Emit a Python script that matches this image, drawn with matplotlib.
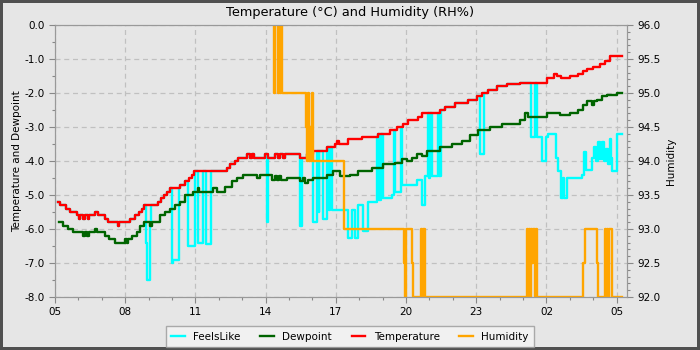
import numpy as np
import matplotlib
matplotlib.use("Agg")
import matplotlib.pyplot as plt
from matplotlib.ticker import MultipleLocator

# time in hours after 05:00 of the first day
temp_t = [0.13, 0.21, 0.47, 0.64, 0.94, 1.03, 1.07, 1.20, 1.26, 1.41, 1.45, 1.71, 1.84,
          2.14, 2.26, 2.69, 2.74, 3.21, 3.42, 3.59, 3.72, 3.80, 4.40, 4.53, 4.66, 4.79,
          4.91, 5.34, 5.56, 5.73, 5.85, 5.94, 7.35, 7.48, 7.69, 7.82, 8.21, 8.33, 8.42,
          8.50, 8.97, 9.10, 9.40, 9.53, 9.62, 9.74, 9.83, 10.47, 10.77, 11.03, 11.62,
          11.97, 12.05, 12.14, 12.52, 13.12, 13.80, 14.32, 14.62, 14.87, 15.09, 15.51,
          15.68, 16.45, 16.67, 17.09, 17.65, 18.03, 18.25, 18.50, 18.89, 19.32, 19.87,
          21.03, 21.32, 21.45, 21.62, 22.01, 22.35, 22.56, 22.74, 22.99, 23.29, 23.50,
          23.72, 24.23]
temp_v = [-5.2, -5.3, -5.4, -5.5, -5.6, -5.7, -5.6, -5.7, -5.6, -5.7, -5.6, -5.5, -5.6,
          -5.7, -5.8, -5.9, -5.8, -5.7, -5.6, -5.5, -5.4, -5.3, -5.2, -5.1, -5.0, -4.9,
          -4.8, -4.7, -4.6, -4.5, -4.4, -4.3, -4.2, -4.1, -4.0, -3.9, -3.8, -3.9, -3.8,
          -3.9, -3.8, -3.9, -3.8, -3.9, -3.8, -3.9, -3.8, -3.9, -3.8, -3.7, -3.6,
          -3.5, -3.4, -3.5, -3.35, -3.3, -3.2, -3.1, -3.0, -2.9, -2.8, -2.7,
          -2.6, -2.5, -2.4, -2.3, -2.2, -2.1, -2.0, -1.9, -1.8, -1.75, -1.7,
          -1.55, -1.45, -1.5, -1.55, -1.5, -1.45, -1.35, -1.3, -1.25, -1.15, -1.05,
          -0.9, -0.9]

dew_t = [0.17, 0.34, 0.56, 0.77, 1.20, 1.28, 1.37, 1.45, 1.71, 1.79, 2.14, 2.31, 2.56,
         2.99, 3.08, 3.12, 3.29, 3.50, 3.63, 3.80, 4.06, 4.15, 4.49, 4.70, 4.91, 5.13,
         5.34, 5.56, 5.90, 6.11, 6.15, 6.75, 6.92, 7.26, 7.56, 7.78, 8.03, 8.63, 8.76,
         9.27, 9.40, 9.49, 9.57, 9.66, 9.91, 10.47, 10.60, 10.68, 10.81, 11.03, 11.62,
         11.88, 12.18, 12.61, 12.95, 13.55, 14.02, 14.53, 14.83, 15.04, 15.26, 15.47,
         15.68, 15.90, 16.45, 16.97, 17.39, 17.74, 18.08, 18.59, 19.10, 19.87, 20.09,
         20.21, 21.03, 21.58, 22.01, 22.35, 22.56, 22.74, 22.95, 23.03, 23.16, 23.38,
         23.59, 24.02, 24.23]
dew_v = [-5.8, -5.9, -6.0, -6.1, -6.2, -6.1, -6.2, -6.1, -6.0, -6.1, -6.2, -6.3, -6.4,
         -6.3, -6.4, -6.3, -6.2, -6.1, -5.9, -5.8, -5.9, -5.8, -5.6, -5.5, -5.4, -5.3,
         -5.2, -5.0, -4.9, -4.8, -4.9, -4.8, -4.9, -4.75, -4.6, -4.5, -4.4, -4.5, -4.4,
         -4.55, -4.45, -4.55, -4.45, -4.55, -4.5, -4.6, -4.5, -4.65, -4.55, -4.5, -4.4,
         -4.3, -4.45, -4.4, -4.3, -4.2, -4.1, -4.05, -3.95, -4.0, -3.9, -3.8,
         -3.85, -3.7, -3.6, -3.5, -3.4, -3.25, -3.1, -3.0, -2.9, -2.8, -2.6,
         -2.7, -2.6, -2.65, -2.6, -2.5, -2.35, -2.25, -2.35, -2.25, -2.2, -2.1,
         -2.05, -2.0, -2.0]

# feels-like follows the temperature except in these windows (start, end, value)
feels_dips = [
    (3.89, 3.93, -6.4), (3.93, 4.04, -7.5), (4.04, 4.08, -5.85),
    (4.98, 5.04, -7.0), (5.04, 5.30, -6.9), (5.68, 5.96, -6.5),
    (6.11, 6.32, -6.4), (6.43, 6.65, -6.45), (9.04, 9.12, -5.8),
    (10.47, 10.56, -5.9), (11.03, 11.20, -5.8), (11.26, 11.30, -5.5),
    (11.45, 11.62, -5.7), (11.69, 11.73, -5.45), (11.84, 12.52, -5.45),
    (12.52, 12.69, -6.25), (12.69, 12.82, -5.45), (12.82, 12.95, -6.25),
    (12.95, 13.16, -5.3), (13.16, 13.38, -6.05), (13.38, 13.76, -5.2),
    (13.85, 13.95, -5.15), (14.00, 14.40, -5.1), (14.40, 14.49, -5.0),
    (14.53, 14.79, -4.9), (14.83, 15.47, -4.7), (15.47, 15.68, -4.55),
    (15.68, 15.81, -5.3), (15.81, 15.94, -4.45), (15.98, 16.03, -4.5),
    (16.09, 16.37, -4.45), (16.41, 16.50, -4.45), (18.14, 18.35, -3.8),
    (20.34, 20.51, -3.3), (20.60, 20.81, -3.3), (20.81, 20.98, -4.0),
    (20.98, 21.07, -3.3), (21.07, 21.41, -3.2), (21.41, 21.50, -3.9),
    (21.50, 21.62, -4.3), (21.62, 21.71, -5.1), (21.71, 21.75, -4.5),
    (21.75, 21.88, -5.1), (21.88, 22.52, -4.5), (22.52, 22.61, -4.4),
    (22.61, 22.67, -3.75), (22.67, 22.95, -4.25), (22.95, 23.03, -3.9),
    (23.03, 23.12, -3.6), (23.12, 23.21, -4.0), (23.21, 23.29, -3.45),
    (23.29, 23.38, -3.95), (23.38, 23.46, -3.45), (23.46, 23.55, -4.0),
    (23.55, 23.63, -3.65), (23.63, 23.70, -4.1), (23.70, 23.76, -3.35),
    (23.76, 23.80, -3.9), (23.80, 24.02, -4.3), (24.02, 24.24, -3.2),
]

hum_t = [0.13, 9.36, 9.42, 9.51, 9.55, 9.62, 9.66, 9.72, 10.73, 10.77, 10.81, 10.85,
         10.90, 10.94, 10.98, 11.03, 12.35, 14.91, 14.96, 15.00, 15.26, 15.30, 15.64,
         15.68, 15.73, 15.79, 20.17, 20.21, 20.26, 20.30, 20.34, 20.38, 20.43, 20.51,
         20.56, 20.60, 22.56, 22.65, 23.16, 23.21, 23.50, 23.55, 23.59, 23.63, 23.68,
         23.78, 24.23]
hum_v = [96.5, 95.0, 96.5, 95.0, 96.5, 95.0, 96.5, 95.0, 94.5, 94.0, 95.0, 94.0,
         94.5, 94.0, 95.0, 94.0, 93.0, 92.5, 92.0, 93.0, 92.5, 92.0, 93.0,
         92.0, 93.0, 92.0, 93.0, 92.0, 93.0, 92.0, 93.0, 92.5, 93.0, 92.0,
         93.0, 92.0, 92.5, 93.0, 92.5, 92.0, 93.0, 92.0, 93.0, 92.0, 93.0,
         92.0, 92.0]

hour_labels = ['05', '08', '11', '14', '17', '20', '23', '02', '05']


def step_value(ts, vs, t):
    i = np.searchsorted(ts, t, side='right') - 1
    return vs[max(i, 0)]


feels_t = sorted(set(temp_t + [d[0] for d in feels_dips] + [d[1] for d in feels_dips]))
feels_t = [t for t in feels_t if t <= temp_t[-1]]
feels_v = []
for t in feels_t:
    v = step_value(temp_t, temp_v, t)
    for a, b, dv in feels_dips:
        if a <= t < b:
            v = dv
    feels_v.append(v)

plt.rcParams['font.family'] = 'DejaVu Sans'
plt.rcParams['axes.unicode_minus'] = False

bg = '#e6e6e6'
fig = plt.figure(figsize=(7, 3.5), dpi=100, facecolor=bg)
fig.patch.set_edgecolor('#505050')
fig.patch.set_linewidth(3)
ax = fig.add_axes([0.0786, 0.1514, 0.8171, 0.7772])
ax.set_facecolor(bg)
ax2 = ax.twinx()

lw = 1.7
l1, = ax.plot(feels_t, feels_v, color='#00ffff', lw=lw, drawstyle='steps-post', label='FeelsLike')
l2, = ax.plot(dew_t, dew_v, color='#006400', lw=lw, drawstyle='steps-post', label='Dewpoint')
l3, = ax.plot(temp_t, temp_v, color='#ff0000', lw=lw, drawstyle='steps-post', label='Temperature')
l4, = ax2.plot(hum_t, hum_v, color='#ffa500', lw=lw, drawstyle='steps-post', label='Humidity')

ax.set_xlim(0, 24.44)
ax.set_ylim(-8, 0)
ax2.set_ylim(92, 96)
ax.set_xticks(np.arange(0, 25, 3))
ax.set_xticklabels(hour_labels)
ax.xaxis.set_minor_locator(MultipleLocator(1))
ax.yaxis.set_major_locator(MultipleLocator(1))
ax.yaxis.set_minor_locator(MultipleLocator(0.5))
ax.yaxis.set_major_formatter('{x:.1f}')
ax2.yaxis.set_major_locator(MultipleLocator(0.5))
ax2.yaxis.set_minor_locator(MultipleLocator(0.1))
ax2.yaxis.set_major_formatter('{x:.1f}')

ax.grid(True, which='major', color='#c0c0c0', linestyle=(0, (4, 3)), linewidth=0.9)
for a in (ax, ax2):
    for s in a.spines.values():
        s.set_color('#999999')
    a.tick_params(which='major', length=4, color='#888888', labelsize=7.5, width=0.8)
    a.tick_params(which='minor', length=2.5, color='#888888', width=0.8)

ax.set_ylabel('Temperature and Dewpoint', fontsize=7.5, labelpad=2)
ax2.set_ylabel('Humidity', fontsize=7.5)
fig.text(0.5, 0.965, 'Temperature (\u00b0C) and Humidity (RH%)', ha='center', va='center', fontsize=9.3)

leg = fig.legend(handles=[l1, l2, l3, l4], loc='lower center', bbox_to_anchor=(0.5, -0.006),
                 ncol=4, fontsize=7.5, frameon=True, fancybox=False, handlelength=1.3,
                 columnspacing=1.9, borderpad=0.5)
leg.get_frame().set_facecolor('#f4f4f4')
leg.get_frame().set_edgecolor('#999999')

fig.savefig('out.png', dpi=100, facecolor=bg, edgecolor='#505050')
